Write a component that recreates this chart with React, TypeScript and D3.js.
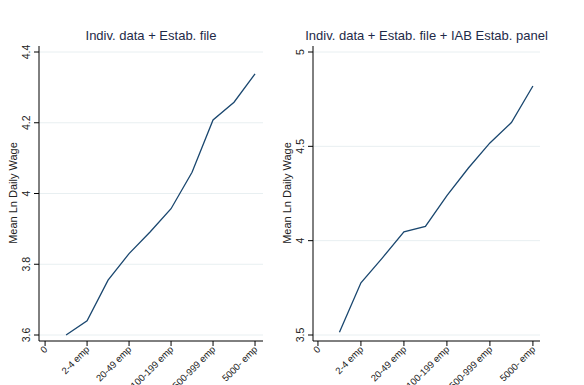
import * as d3 from 'd3'

// size class index (1..10) and the mean ln daily wage for each panel
const sizeClass = [1, 2, 3, 4, 5, 6, 7, 8, 9, 10]
const leftValues = [3.6, 3.64, 3.755, 3.83, 3.891, 3.957, 4.06, 4.208, 4.258, 4.338]
const rightValues = [3.514, 3.777, 3.909, 4.047, 4.076, 4.239, 4.385, 4.518, 4.626, 4.82]

const xTickValues = [0, 2, 4, 6, 8, 10]
const xTickLabels = ['0', '2-4 emp', '20-49 emp', '100-199 emp', '500-999 emp', '5000- emp']

const leftYTicks = [3.6, 3.8, 4, 4.2, 4.4]
const rightYTicks = [3.5, 4, 4.5, 5]

const LINE = '#1a476f'
const GRID = '#e8eff1'
const FONT = 'Liberation Sans, Arial, sans-serif'

function Panel({ title, values, yTicks, left, right, xMin, xMax }) {
  const top = 52
  const bottom = 335
  const axisY = 341

  const x = d3.scaleLinear().domain([xMin, xMax]).range([left, right])
  const y = d3.scaleLinear().domain([yTicks[0], yTicks[yTicks.length - 1]]).range([bottom, top])

  const line = d3.line<number>()
    .x((_, i) => x(sizeClass[i]))
    .y(d => y(d))

  return (
    <g fontFamily={FONT}>
      <text x={(left + right) / 2} y={40} textAnchor="middle" fontSize={13} fill="#1e2a48">
        {title}
      </text>

      {/* grid */}
      {yTicks.map(t => (
        <line key={'g' + t} x1={left} x2={right} y1={y(t)} y2={y(t)} stroke={GRID} strokeWidth={1} />
      ))}

      {/* y axis */}
      <line x1={left} x2={left} y1={46} y2={axisY} stroke="#000" strokeWidth={1} />
      {yTicks.map(t => (
        <g key={'y' + t}>
          <line x1={left - 5} x2={left} y1={y(t)} y2={y(t)} stroke="#000" />
          <text
            transform={`translate(${left - 9},${y(t)}) rotate(-90)`}
            textAnchor="middle"
            fontSize={10.5}
            fill="#222"
          >
            {d3.format('~g')(t)}
          </text>
        </g>
      ))}
      <text
        transform={`translate(${left - 22},193) rotate(-90)`}
        textAnchor="middle"
        fontSize={11}
        fill="#222"
      >
        Mean Ln Daily Wage
      </text>

      {/* x axis */}
      <line x1={left} x2={right} y1={axisY} y2={axisY} stroke="#000" strokeWidth={1} />
      {xTickValues.map((t, i) => (
        <g key={'x' + t}>
          <line x1={x(t)} x2={x(t)} y1={axisY} y2={axisY + 5} stroke="#000" />
          <text
            transform={`translate(${x(t) + 3},${axisY + 9}) rotate(-45)`}
            textAnchor="end"
            fontSize={9.5}
            fill="#222"
          >
            {xTickLabels[i]}
          </text>
        </g>
      ))}

      <path d={line(values) || ''} fill="none" stroke={LINE} strokeWidth={1.3} />
    </g>
  )
}

export default function App() {
  return (
    <div style={{ position: 'fixed', left: 0, top: 0 }}>
      <svg width={584} height={385} style={{ display: 'block', background: '#fff' }}>
        <Panel
          title="Indiv. data + Estab. file"
          values={leftValues}
          yTicks={leftYTicks}
          left={39}
          right={263}
          xMin={-0.29}
          xMax={10.38}
        />
        <Panel
          title="Indiv. data + Estab. file + IAB Estab. panel"
          values={rightValues}
          yTicks={rightYTicks}
          left={313}
          right={540}
          xMin={-0.23}
          xMax={10.33}
        />
      </svg>
    </div>
  )
}
